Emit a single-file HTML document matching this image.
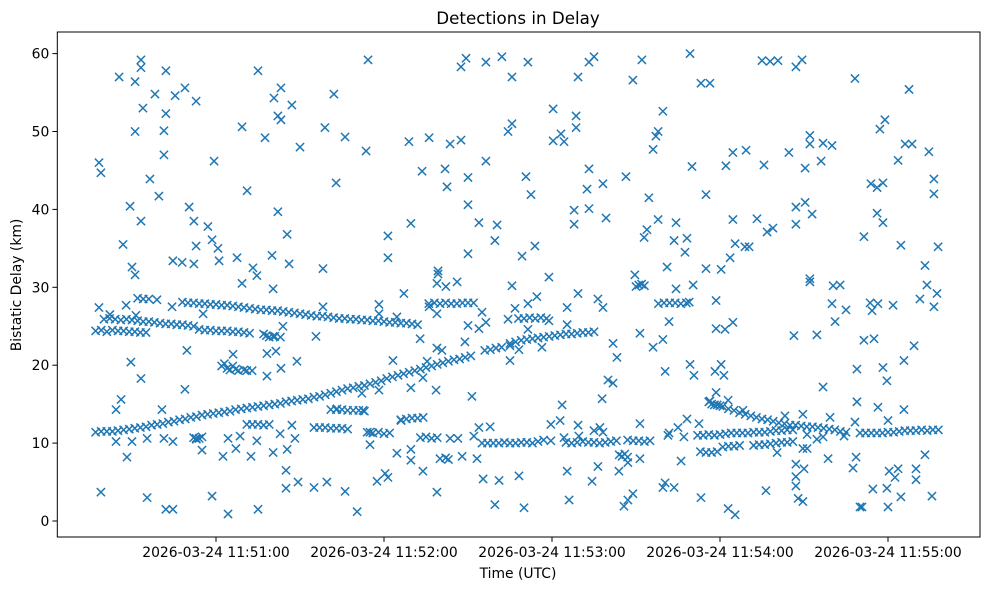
<!DOCTYPE html>
<html><head><meta charset="utf-8"><title>Detections in Delay</title>
<style>
html,body{margin:0;padding:0;background:#fff;}
svg{display:block;font-family:"DejaVu Sans","Liberation Sans",sans-serif;}
</style></head>
<body>
<svg id="chart" width="989" height="590" viewBox="0 0 989 590" xmlns="http://www.w3.org/2000/svg">
<rect x="0" y="0" width="989" height="590" fill="#fff"/>
<text x="518" y="24" font-size="16.7" text-anchor="middle" fill="#000">Detections in Delay</text>
<text x="518" y="578" font-size="13.9" text-anchor="middle" fill="#000">Time (UTC)</text>
<text x="0" y="0" font-size="13.9" text-anchor="middle" fill="#000" transform="translate(21,285) rotate(-90)">Bistatic Delay (km)</text>
<g id="marks"></g>
<g id="axes"></g>
</svg>
<script>
// time values in seconds after 11:50:00 UTC, delay in km
const xTickValues = [60, 120, 180, 240, 300];
const xTickLabels = ["2026-03-24 11:51:00","2026-03-24 11:52:00","2026-03-24 11:53:00","2026-03-24 11:54:00","2026-03-24 11:55:00"];
const yTickValues = [0, 10, 20, 30, 40, 50, 60];
const yTickLabels = ["0","10","20","30","40","50","60"];

const trackRising = [[17,11.4],[19,11.5],[21,11.5],[23,11.5],[25,11.6],[27,11.7],[29,11.8],[31,11.9],[33,12.0],[35,12.1],[37,12.3],[39,12.4],[41,12.5],[43,12.7],[45,12.8],[47,13.0],[49,13.1],[51,13.3],[53,13.4],[55,13.6],[57,13.7],[59,13.8],[61,13.9],[63,14.0],[65,14.1],[67,14.3],[69,14.4],[71,14.5],[73,14.6],[75,14.7],[77,14.8],[79,14.9],[81,15.0],[83,15.1],[85,15.3],[87,15.4],[89,15.5],[91,15.6],[93,15.7],[95,15.9],[97,16.0],[99,16.2],[101,16.4],[103,16.6],[105,16.8],[107,17.0],[109,17.1],[111,17.3],[113,17.4],[115,17.6],[117,17.8],[119,18.0],[121,18.3],[123,18.5],[125,18.7],[127,18.9],[129,19.1],[131,19.3],[133,19.5],[135,19.7],[137,19.9],[139,20.1],[141,20.3],[143,20.5],[145,20.7],[147,20.8],[149,21.0],[151,21.2],[156,21.9],[158,22.0],[160,22.2],[162,22.3],[165,22.8],[167,23.0],[169,23.2],[171,23.3],[173,23.4],[175,23.5],[177,23.6],[179,23.7],[181,23.8],[183,23.9],[185,24.0],[187,24.0],[189,24.1],[191,24.2],[193,24.2],[195,24.3]];
const trackUpper = [[32,28.6],[34,28.5],[36,28.5],[48,28.1],[50,28.0],[52,28.0],[54,27.9],[56,27.9],[58,27.8],[60,27.8],[62,27.7],[64,27.7],[66,27.6],[68,27.5],[70,27.4],[72,27.3],[74,27.2],[76,27.1],[78,27.1],[80,27.0],[82,27.0],[84,26.9],[86,26.8],[88,26.7],[90,26.6],[92,26.5],[94,26.4],[96,26.3],[98,26.3],[100,26.2],[102,26.1],[104,26.0],[106,26.0],[108,25.9],[110,25.9],[112,25.8],[114,25.8],[116,25.7],[118,25.7],[120,25.6],[122,25.5],[124,25.5],[126,25.4],[128,25.4],[130,25.3],[132,25.2]];
const trackMidB = [[20,25.9],[22,26.0],[24,25.9],[26,25.8],[28,25.9],[30,25.8],[32,25.7],[34,25.6],[36,25.6],[38,25.5],[40,25.4],[42,25.3],[44,25.3],[46,25.2],[48,25.2],[50,25.1],[52,25.0]];
const trackMidC = [[17,24.4],[19,24.5],[21,24.3],[23,24.5],[25,24.4],[27,24.4],[29,24.3],[31,24.3],[33,24.2],[35,24.2],[54,24.6],[56,24.5],[58,24.5],[60,24.4],[62,24.4],[64,24.4],[66,24.3],[68,24.3],[70,24.2],[72,24.1]];
const clusterMid = [[62,19.9],[63,20.2],[64,19.6],[65,19.4],[66,19.9],[67,19.5],[68,19.3],[70,19.4],[71,19.3],[77,24.0],[78,23.8],[79,23.6],[81,23.7],[83,23.6]];
const clustersLow = [[95,12.0],[97,12.0],[99,12.0],[101,11.9],[103,11.9],[105,11.9],[107,11.8],[101,14.3],[103,14.3],[105,14.3],[107,14.2],[109,14.2],[111,14.2],[113,14.1],[52,10.7],[53,10.5],[54,10.6],[55,10.8],[71,12.4],[73,12.4],[75,12.4],[77,12.3],[79,12.4],[114,11.4],[116,11.3],[118,11.4],[120,11.2],[122,11.3],[126,13.0],[128,13.1],[130,13.2],[132,13.2],[134,13.3],[133,10.7],[135,10.8],[137,10.6],[139,10.7],[140,8.0],[142,8.1],[143,7.9]];
const bandsTen = [[155,10.0],[157,10.0],[159,10.0],[161,10.0],[163,10.1],[165,10.0],[167,10.0],[169,10.1],[171,10.1],[173,10.0],[175,10.2],[177,10.4],[185,10.1],[187,10.0],[189,10.1],[191,10.2],[193,10.1],[195,10.1],[197,10.0],[199,10.1],[201,10.2],[203,10.3],[207,10.4],[209,10.3],[211,10.3],[213,10.2],[215,10.3],[204,8.5],[205,8.3],[206,8.6],[207,8.2]];
const bandsHigh = [[136,27.9],[138,28.0],[140,27.9],[142,28.0],[144,27.9],[146,27.9],[148,28.0],[150,28.0],[152,28.0],[168,26.0],[170,26.0],[172,26.1],[174,26.0],[176,26.1],[178,26.0],[210,30.1],[211,30.3],[212,30.4],[213,30.2],[218,27.9],[220,28.0],[222,28.0],[224,28.0],[226,27.9],[228,28.0],[229,28.1]];
const trackFalling = [[236,15.3],[237,15.0],[238,14.9],[239,14.9],[240,14.8],[241,14.7],[243,14.4],[245,14.2],[247,13.9],[249,13.7],[251,13.5],[253,13.3],[255,13.1],[257,13.0],[259,12.8],[261,12.6],[263,12.5],[265,12.3],[267,12.3],[269,12.2],[271,12.1],[273,12.1],[275,12.0],[277,11.9],[279,11.8],[281,11.7],[283,11.5],[285,11.4]];
const trackRightMid = [[232,11.0],[234,11.0],[236,11.1],[238,11.0],[240,11.1],[242,11.2],[244,11.3],[246,11.3],[248,11.3],[250,11.3],[252,11.4],[254,11.4],[256,11.4],[258,11.5],[260,11.6],[262,11.6],[264,11.7],[266,11.7]];
const trackRightLow = [[233,8.9],[235,8.8],[237,8.8],[239,8.9],[241,9.5],[243,9.6],[245,9.6],[247,9.7],[252,9.7],[254,9.8],[256,9.8],[258,9.9],[260,10.0],[262,10.1],[264,10.1],[266,10.2]];
const trackRightEnd = [[290,11.3],[292,11.3],[294,11.3],[296,11.3],[298,11.3],[300,11.4],[302,11.4],[304,11.5],[306,11.6],[308,11.6],[310,11.6],[312,11.7],[314,11.6],[316,11.7],[318,11.7]];
const noiseTopLeft = [[18.2,46.0],[18.9,44.7],[25.4,57.0],[31.1,56.4],[33.2,59.2],[33.2,58.2],[42.1,57.8],[33.9,53.0],[38.2,54.8],[45.4,54.6],[48.9,55.6],[52.9,53.9],[42.1,52.3],[31.1,50.0],[41.4,50.1],[41.4,47.0],[36.4,43.9],[39.6,41.7],[29.3,40.4],[33.2,38.5],[26.8,35.5],[30.0,32.6],[31.1,31.6],[44.6,33.4],[47.9,33.2],[52.1,33.0],[50.4,40.3],[52.1,38.5],[52.9,35.3],[57.1,37.8],[58.6,36.1],[60.7,35.0],[61.1,33.4],[67.5,33.8],[73.2,32.5],[59.3,46.2],[69.3,50.6],[71.1,42.4],[75.0,57.8],[77.5,49.2],[80.7,54.3],[83.2,55.6],[82.1,52.0],[83.2,51.5],[87.1,53.4],[90.0,48.0],[82.1,39.7],[85.4,36.8],[80.0,34.1],[86.1,33.0],[98.2,32.4],[98.9,50.5],[102.1,54.8],[106.1,49.3],[102.9,43.4],[113.6,47.5],[114.3,59.2]];
const noiseTopMid = [[147.5,58.3],[149.3,59.4],[156.4,58.9],[162.1,59.6],[165.7,57.0],[171.4,58.9],[193.2,58.9],[195.0,59.6],[189.3,57.0],[212.1,59.2],[208.9,56.6],[180.4,52.9],[188.6,52.0],[188.6,50.5],[219.6,52.6],[217.9,50.0],[217.1,49.4],[216.1,47.7],[165.7,51.0],[164.3,50.0],[183.2,49.7],[180.4,48.8],[184.3,48.7],[128.9,48.7],[136.1,49.2],[143.6,48.4],[147.5,48.9],[133.6,44.9],[141.8,45.2],[142.5,42.9],[150.0,44.1],[156.4,46.2],[170.7,44.2],[172.5,41.9],[150.0,40.6],[129.6,38.2],[121.4,36.6],[121.4,33.8],[153.9,38.3],[160.4,38.0],[159.6,36.0],[150.0,34.3],[169.3,34.0],[173.9,35.3],[187.9,39.9],[187.9,38.1],[193.2,40.1],[192.5,42.6],[193.2,45.2],[198.2,43.3],[199.3,38.9],[206.4,44.2],[214.6,41.5],[217.9,38.7],[213.9,37.4],[212.9,36.4],[224.3,38.3],[223.6,36.0],[221.1,32.6],[209.6,31.6],[178.9,31.3],[139.3,32.1]];
const noiseTopRight = [[229.3,60.0],[233.2,56.2],[236.4,56.2],[255.0,59.1],[257.9,59.0],[260.7,59.1],[267.1,58.3],[269.3,59.2],[288.2,56.8],[307.5,55.4],[298.9,51.5],[297.1,50.3],[272.1,49.5],[272.1,48.4],[276.8,48.5],[280.0,48.2],[264.6,47.3],[270.4,45.3],[276.1,46.2],[255.7,45.7],[249.3,47.6],[244.6,47.3],[242.1,45.6],[230.0,45.5],[235.0,41.9],[228.2,36.3],[227.5,34.5],[244.6,38.7],[253.2,38.8],[256.8,37.1],[258.9,37.6],[267.1,40.3],[270.4,40.9],[272.9,39.4],[267.1,38.1],[245.4,35.6],[248.9,35.2],[250.4,35.2],[243.6,33.8],[235.0,32.4],[240.4,32.3],[272.1,31.1],[291.4,36.5],[293.9,43.3],[296.1,42.8],[298.2,43.4],[296.1,39.5],[298.2,38.3],[306.1,48.4],[308.6,48.4],[303.6,46.3],[314.6,47.4],[316.4,43.9],[316.4,42.0],[304.6,35.4],[313.2,32.8],[317.9,35.2]];
const noiseLowLeft = [[18.2,27.4],[22.1,26.5],[27.9,27.7],[31.4,26.4],[38.9,28.4],[44.3,27.5],[55.4,26.6],[29.6,20.4],[33.2,18.3],[49.6,21.9],[48.9,16.9],[26.1,15.6],[24.3,14.3],[40.7,14.3],[24.3,10.2],[30.0,10.2],[35.4,10.6],[41.4,10.6],[44.6,10.2],[28.2,8.2],[52.9,10.6],[55.0,9.1],[62.5,8.3],[64.3,10.6],[67.1,9.3],[68.6,10.9],[72.5,8.3],[74.6,10.3],[80.4,8.8],[82.9,11.2],[85.4,9.2],[88.2,10.6],[87.1,12.3],[85.0,6.5],[85.0,4.2],[89.3,5.0],[95.0,4.3],[99.6,5.0],[106.1,3.8],[110.4,1.2],[117.5,5.1],[18.9,3.7],[35.4,3.0],[42.1,1.5],[44.6,1.5],[58.6,3.2],[64.3,0.9],[75.0,1.5],[66.1,21.4],[72.9,19.3],[78.2,18.6],[78.2,21.5],[81.4,21.8],[83.2,19.6],[88.9,20.5],[80.4,23.7],[83.9,25.0],[98.2,27.5],[95.7,23.7],[103.2,14.4],[112.1,16.4],[115.0,9.8],[69.3,30.5],[74.6,31.5],[80.4,29.8]];
const noiseLowMid = [[112.5,14.2],[118.2,16.8],[123.2,20.6],[132.9,23.4],[135.4,20.5],[133.9,18.4],[129.6,17.1],[138.6,16.8],[150.0,25.1],[148.9,23.0],[151.4,16.0],[138.9,22.2],[140.7,21.9],[127.1,29.2],[118.2,27.8],[118.2,26.6],[124.6,26.2],[136.1,27.5],[138.9,26.6],[138.9,30.5],[139.3,31.7],[146.1,30.7],[142.1,30.1],[155.0,26.8],[153.9,24.7],[156.4,25.5],[165.7,30.2],[164.3,25.9],[166.8,27.3],[171.4,27.9],[174.6,28.8],[171.4,24.6],[165.0,22.5],[165.0,20.6],[168.2,22.0],[176.4,22.3],[178.9,25.7],[185.4,27.4],[185.4,25.2],[189.3,29.2],[196.4,28.5],[198.2,27.4],[201.8,22.8],[203.2,21.0],[200.0,18.1],[201.8,17.7],[197.9,15.7],[183.6,14.9],[182.9,12.9],[179.6,12.4],[189.3,12.3],[197.1,12.0],[211.4,12.5],[211.4,24.1],[216.1,22.3],[219.6,23.3],[220.4,19.2],[221.8,25.6],[224.3,29.8],[126.1,12.9],[124.6,8.7],[129.6,7.8],[133.9,6.4],[138.9,3.7],[120.4,6.1],[121.4,5.6],[155.4,5.4],[161.1,5.2],[168.2,5.8],[159.6,2.1],[170.0,1.7],[185.4,6.4],[186.1,2.7],[194.3,5.1],[196.4,7.0],[203.9,6.4],[205.7,1.9],[207.1,2.7],[208.9,3.5],[219.6,4.3],[223.6,4.3],[220.4,4.9],[153.2,8.0],[147.9,8.3],[129.6,9.2],[115.0,11.4],[143.6,10.6],[146.4,10.6],[152.1,10.9],[153.9,12.0],[157.9,12.1],[179.6,10.3],[189.6,10.9],[184.3,10.7],[198.2,11.4],[195.0,11.6],[225.0,12.0],[221.4,11.0],[211.4,8.0],[207.1,7.5]];
const noiseLowRight = [[230.4,30.3],[238.6,28.3],[244.6,25.5],[238.6,24.7],[241.8,24.6],[229.3,20.1],[230.7,18.7],[238.2,19.2],[240.4,20.1],[241.4,18.7],[238.6,16.5],[236.4,15.4],[242.9,15.5],[272.1,30.7],[280.4,30.2],[282.9,30.3],[280.0,27.9],[285.0,27.1],[281.1,25.6],[266.4,23.8],[274.6,23.9],[293.6,28.0],[296.4,27.9],[301.8,27.7],[294.3,27.0],[311.4,28.5],[313.9,30.3],[317.5,29.2],[316.4,27.5],[291.4,23.2],[295.0,23.4],[309.3,22.5],[305.7,20.6],[288.9,19.5],[298.2,19.7],[299.6,18.0],[276.8,17.2],[288.9,15.3],[296.4,14.6],[305.7,14.3],[269.6,13.7],[279.3,13.3],[263.2,13.5],[248.2,14.2],[300.0,12.9],[228.2,13.1],[232.5,12.5],[221.8,11.3],[227.1,10.8],[284.3,10.9],[288.2,12.7],[226.1,7.7],[278.6,8.0],[288.6,8.2],[287.5,6.8],[313.2,8.5],[300.4,6.4],[303.6,6.7],[302.5,5.6],[310.0,6.7],[310.0,5.3],[233.2,3.0],[256.4,3.9],[267.1,7.3],[267.1,5.7],[267.1,4.5],[270.0,6.7],[267.9,2.9],[269.6,2.5],[242.9,1.6],[245.4,0.8],[294.6,4.1],[299.6,4.2],[300.0,1.8],[304.6,3.1],[290.0,1.8],[290.7,1.8],[315.7,3.2],[271.1,11.1],[271.1,9.3],[269.6,9.3],[274.6,10.5],[276.8,10.8],[260.4,8.8]];

const series = [trackRising, trackUpper, trackMidB, trackMidC, clusterMid, clustersLow, bandsTen, bandsHigh, trackFalling, trackRightMid, trackRightLow, trackRightEnd, noiseTopLeft, noiseTopMid, noiseTopRight, noiseLowLeft, noiseLowMid, noiseLowRight];

const PLOT = {left: 57.3, right: 980, top: 32, bottom: 537};
function xScale(t) { return 216 + (t - 60) * 2.8; }
function yScale(d) { return 521 - d * 7.79; }

const NS = "http://www.w3.org/2000/svg";
const marks = document.getElementById('marks');
const axes = document.getElementById('axes');
const COLOR = "#1f77b4";
const R = 4.1;

series.forEach(function(arr){
  arr.forEach(function(p){
    const cx = xScale(p[0]), cy = yScale(p[1]);
    const path = document.createElementNS(NS, 'path');
    path.setAttribute('d', 'M' + (cx - R) + ' ' + (cy - R) + 'L' + (cx + R) + ' ' + (cy + R) + 'M' + (cx - R) + ' ' + (cy + R) + 'L' + (cx + R) + ' ' + (cy - R));
    path.setAttribute('stroke', COLOR);
    path.setAttribute('stroke-width', '1.5');
    path.setAttribute('fill', 'none');
    
    
    marks.appendChild(path);
  });
});

const frame = document.createElementNS(NS, 'rect');
frame.setAttribute('x', PLOT.left);
frame.setAttribute('y', PLOT.top);
frame.setAttribute('width', PLOT.right - PLOT.left);
frame.setAttribute('height', PLOT.bottom - PLOT.top);
frame.setAttribute('fill', 'none');
frame.setAttribute('stroke', '#000');
frame.setAttribute('stroke-width', '1');


axes.appendChild(frame);

yTickValues.forEach(function(v, i){
  const y = yScale(v);
  const tick = document.createElementNS(NS, 'line');
  tick.setAttribute('x1', PLOT.left - 4.9); tick.setAttribute('x2', PLOT.left);
  tick.setAttribute('y1', y); tick.setAttribute('y2', y);
  tick.setAttribute('stroke', '#000'); tick.setAttribute('stroke-width', '1');
  
  
  axes.appendChild(tick);
  const lbl = document.createElementNS(NS, 'text');
  lbl.setAttribute('x', PLOT.left - 8); lbl.setAttribute('y', y + 5);
  lbl.setAttribute('font-size', '13.9'); lbl.setAttribute('text-anchor', 'end');
  lbl.textContent = yTickLabels[i];
  
  
  axes.appendChild(lbl);
});

xTickValues.forEach(function(v, i){
  const x = xScale(v);
  const tick = document.createElementNS(NS, 'line');
  tick.setAttribute('x1', x); tick.setAttribute('x2', x);
  tick.setAttribute('y1', PLOT.bottom); tick.setAttribute('y2', PLOT.bottom + 4.9);
  tick.setAttribute('stroke', '#000'); tick.setAttribute('stroke-width', '1');
  
  
  axes.appendChild(tick);
  const lbl = document.createElementNS(NS, 'text');
  lbl.setAttribute('x', x); lbl.setAttribute('y', PLOT.bottom + 20);
  lbl.setAttribute('font-size', '13.9'); lbl.setAttribute('text-anchor', 'middle');
  lbl.textContent = xTickLabels[i];
  
  
  axes.appendChild(lbl);
});
</script>
</body></html>
